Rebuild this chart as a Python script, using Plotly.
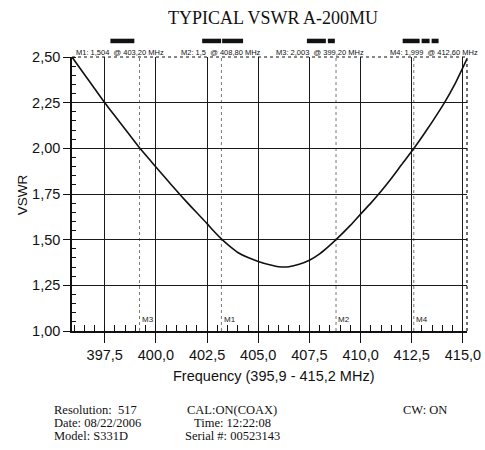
import plotly.graph_objects as go

# ---- data ----
freq_mhz = [395.9, 396.5, 397.0, 397.5, 398.0, 398.5, 399.2, 399.7, 400.0, 400.5,
            401.0, 401.5, 402.0, 402.5, 402.8, 403.2, 403.6, 404.0, 404.5, 405.0,
            405.5, 406.0, 406.5, 407.0, 407.5, 408.0, 408.4, 408.8, 409.5, 410.0,
            410.5, 411.0, 411.5, 412.0, 412.6, 413.0, 413.5, 414.1, 414.6, 415.2]
vswr = [2.50, 2.406, 2.328, 2.25, 2.177, 2.105, 2.003, 1.937, 1.898, 1.833,
        1.769, 1.707, 1.647, 1.588, 1.550, 1.504, 1.464, 1.430, 1.402, 1.381,
        1.364, 1.352, 1.352, 1.365, 1.387, 1.422, 1.459, 1.50, 1.578, 1.64,
        1.70, 1.765, 1.835, 1.91, 1.999, 2.062, 2.145, 2.25, 2.35, 2.49]

marker_names = ["M3", "M1", "M2", "M4"]
marker_freqs = [399.2, 403.2, 408.8, 412.6]
marker_readouts = ["M1: 1,504  @ 403,20 MHz", "M2: 1,5  @ 408,80 MHz",
                   "M3: 2,003  @ 399,20 MHz", "M4: 1,999  @ 412,60 MHz"]

footer_left = ["Resolution:  517", "Date: 08/22/2006", "Model: S331D"]
footer_mid = ["CAL:ON(COAX)", "Time: 12:22:08", "Serial #: 00523143"]
footer_right = ["CW: ON"]

x_range = [395.9, 415.2]
y_range = [1.0, 2.5]

# ---- layout geometry (pixels) ----
W, H = 485, 450
L, R, T, B = 71.5, 467.5, 57.3, 331.5


def px(x):
    return (x - L) / (R - L)


def py(y):
    return (B - y) / (B - T)


fig = go.Figure()
fig.add_trace(go.Scatter(x=freq_mhz, y=vswr, mode="lines",
                         line=dict(color="#111", width=1.6, shape="spline", smoothing=0.6),
                         hoverinfo="skip", showlegend=False))

shapes = []
annotations = []

# marker lines + labels
for name, f in zip(marker_names, marker_freqs):
    shapes.append(dict(type="line", xref="x", yref="paper", x0=f, x1=f, y0=0, y1=1,
                       line=dict(color="#777", width=1, dash="dot"), layer="below"))
    annotations.append(dict(xref="x", yref="paper", x=f + 0.02, y=py(320), text=name,
                            showarrow=False, xanchor="left", yanchor="middle",
                            font=dict(family="Liberation Sans", size=8, color="#222")))

# top and right border (dotted)
shapes.append(dict(type="line", xref="paper", yref="paper", x0=0, x1=1, y0=1, y1=1,
                   line=dict(color="#111", width=1.2, dash="dot")))
shapes.append(dict(type="line", xref="paper", yref="paper", x0=1, x1=1, y0=0, y1=1,
                   line=dict(color="#111", width=1.2, dash="dot")))

# little black bars above plot
bar_segments = [(110, 134), (202, 221), (222, 243), (307, 326), (328, 335),
                (403, 420), (422, 430), (432, 439)]
for a, b in bar_segments:
    shapes.append(dict(type="rect", xref="paper", yref="paper", x0=px(a), x1=px(b),
                       y0=py(43.5), y1=py(39), fillcolor="#111", line=dict(width=0)))

# marker readouts
readout_x = [75, 180, 275, 389]
for txt, xx in zip(marker_readouts, readout_x):
    annotations.append(dict(xref="paper", yref="paper", x=px(xx), y=py(53), text=txt,
                            showarrow=False, xanchor="left", yanchor="middle",
                            borderpad=0,
                            font=dict(family="Liberation Sans", size=7.5, color="#111")))

# title
annotations.append(dict(xref="paper", yref="paper", x=px(273), y=py(18),
                        text="TYPICAL VSWR A-200MU", showarrow=False,
                        xanchor="center", yanchor="middle",
                        font=dict(family="Liberation Serif", size=18, color="#111")))
# axis titles
annotations.append(dict(xref="paper", yref="paper", x=px(22), y=py(195), text="VSWR",
                        showarrow=False, textangle=-90, xanchor="center", yanchor="middle",
                        font=dict(family="Liberation Sans", size=13.5, color="#111")))
annotations.append(dict(xref="paper", yref="paper", x=px(274), y=py(377),
                        text="Frequency (395,9 - 415,2 MHz)", showarrow=False,
                        xanchor="center", yanchor="middle",
                        font=dict(family="Liberation Sans", size=14.5, color="#111")))

# footer
serif = dict(family="Liberation Serif", size=12.5, color="#111")
line_y = [410.5, 423.7, 436.9]
for txt, yy in zip(footer_left, line_y):
    annotations.append(dict(xref="paper", yref="paper", x=px(52), y=py(yy), text=txt,
                            showarrow=False, xanchor="left", yanchor="middle",
                            borderpad=0, font=serif))
for txt, yy in zip(footer_mid, line_y):
    annotations.append(dict(xref="paper", yref="paper", x=px(232), y=py(yy), text=txt,
                            showarrow=False, xanchor="center", yanchor="middle",
                            borderpad=0, font=serif))
for txt, yy in zip(footer_right, line_y):
    annotations.append(dict(xref="paper", yref="paper", x=px(425), y=py(yy), text=txt,
                            showarrow=False, xanchor="center", yanchor="middle",
                            borderpad=0, font=serif))

fig.update_layout(
    width=W, height=H,
    margin=dict(l=L, r=W - R, t=T, b=H - B, autoexpand=False),
    paper_bgcolor="white", plot_bgcolor="white",
    separators=", ",
    showlegend=False,
    shapes=shapes, annotations=annotations,
    xaxis=dict(range=x_range, tick0=0, dtick=2.5, tickformat=".1f",
               automargin=False,
               showgrid=True, gridcolor="#1a1a1a", gridwidth=1,
               showline=True, linecolor="#111", linewidth=1.5,
               ticks="outside", ticklen=10, tickcolor="#111", tickwidth=1.2,
               tickfont=dict(family="Liberation Sans", size=14.5, color="#111"),
               minor=dict(dtick=0.5, ticks="inside", ticklen=6, tickcolor="#111",
                          showgrid=False),
               zeroline=False, fixedrange=True),
    yaxis=dict(range=y_range, tick0=0, dtick=0.25, tickformat=".2f",
               automargin=False,
               showgrid=True, gridcolor="#1a1a1a", gridwidth=1,
               showline=True, linecolor="#111", linewidth=1.5,
               ticks="outside", ticklen=7, tickcolor="#111",
               tickfont=dict(family="Liberation Sans", size=14.5, color="#111"),
               minor=dict(dtick=0.05, ticks="inside", ticklen=4, tickcolor="#111",
                          showgrid=False),
               zeroline=False, fixedrange=True),
)

fig.write_html("out.html", config={"displayModeBar": False},
               post_script="document.body.style.margin='0';document.body.style.overflow='hidden';")
